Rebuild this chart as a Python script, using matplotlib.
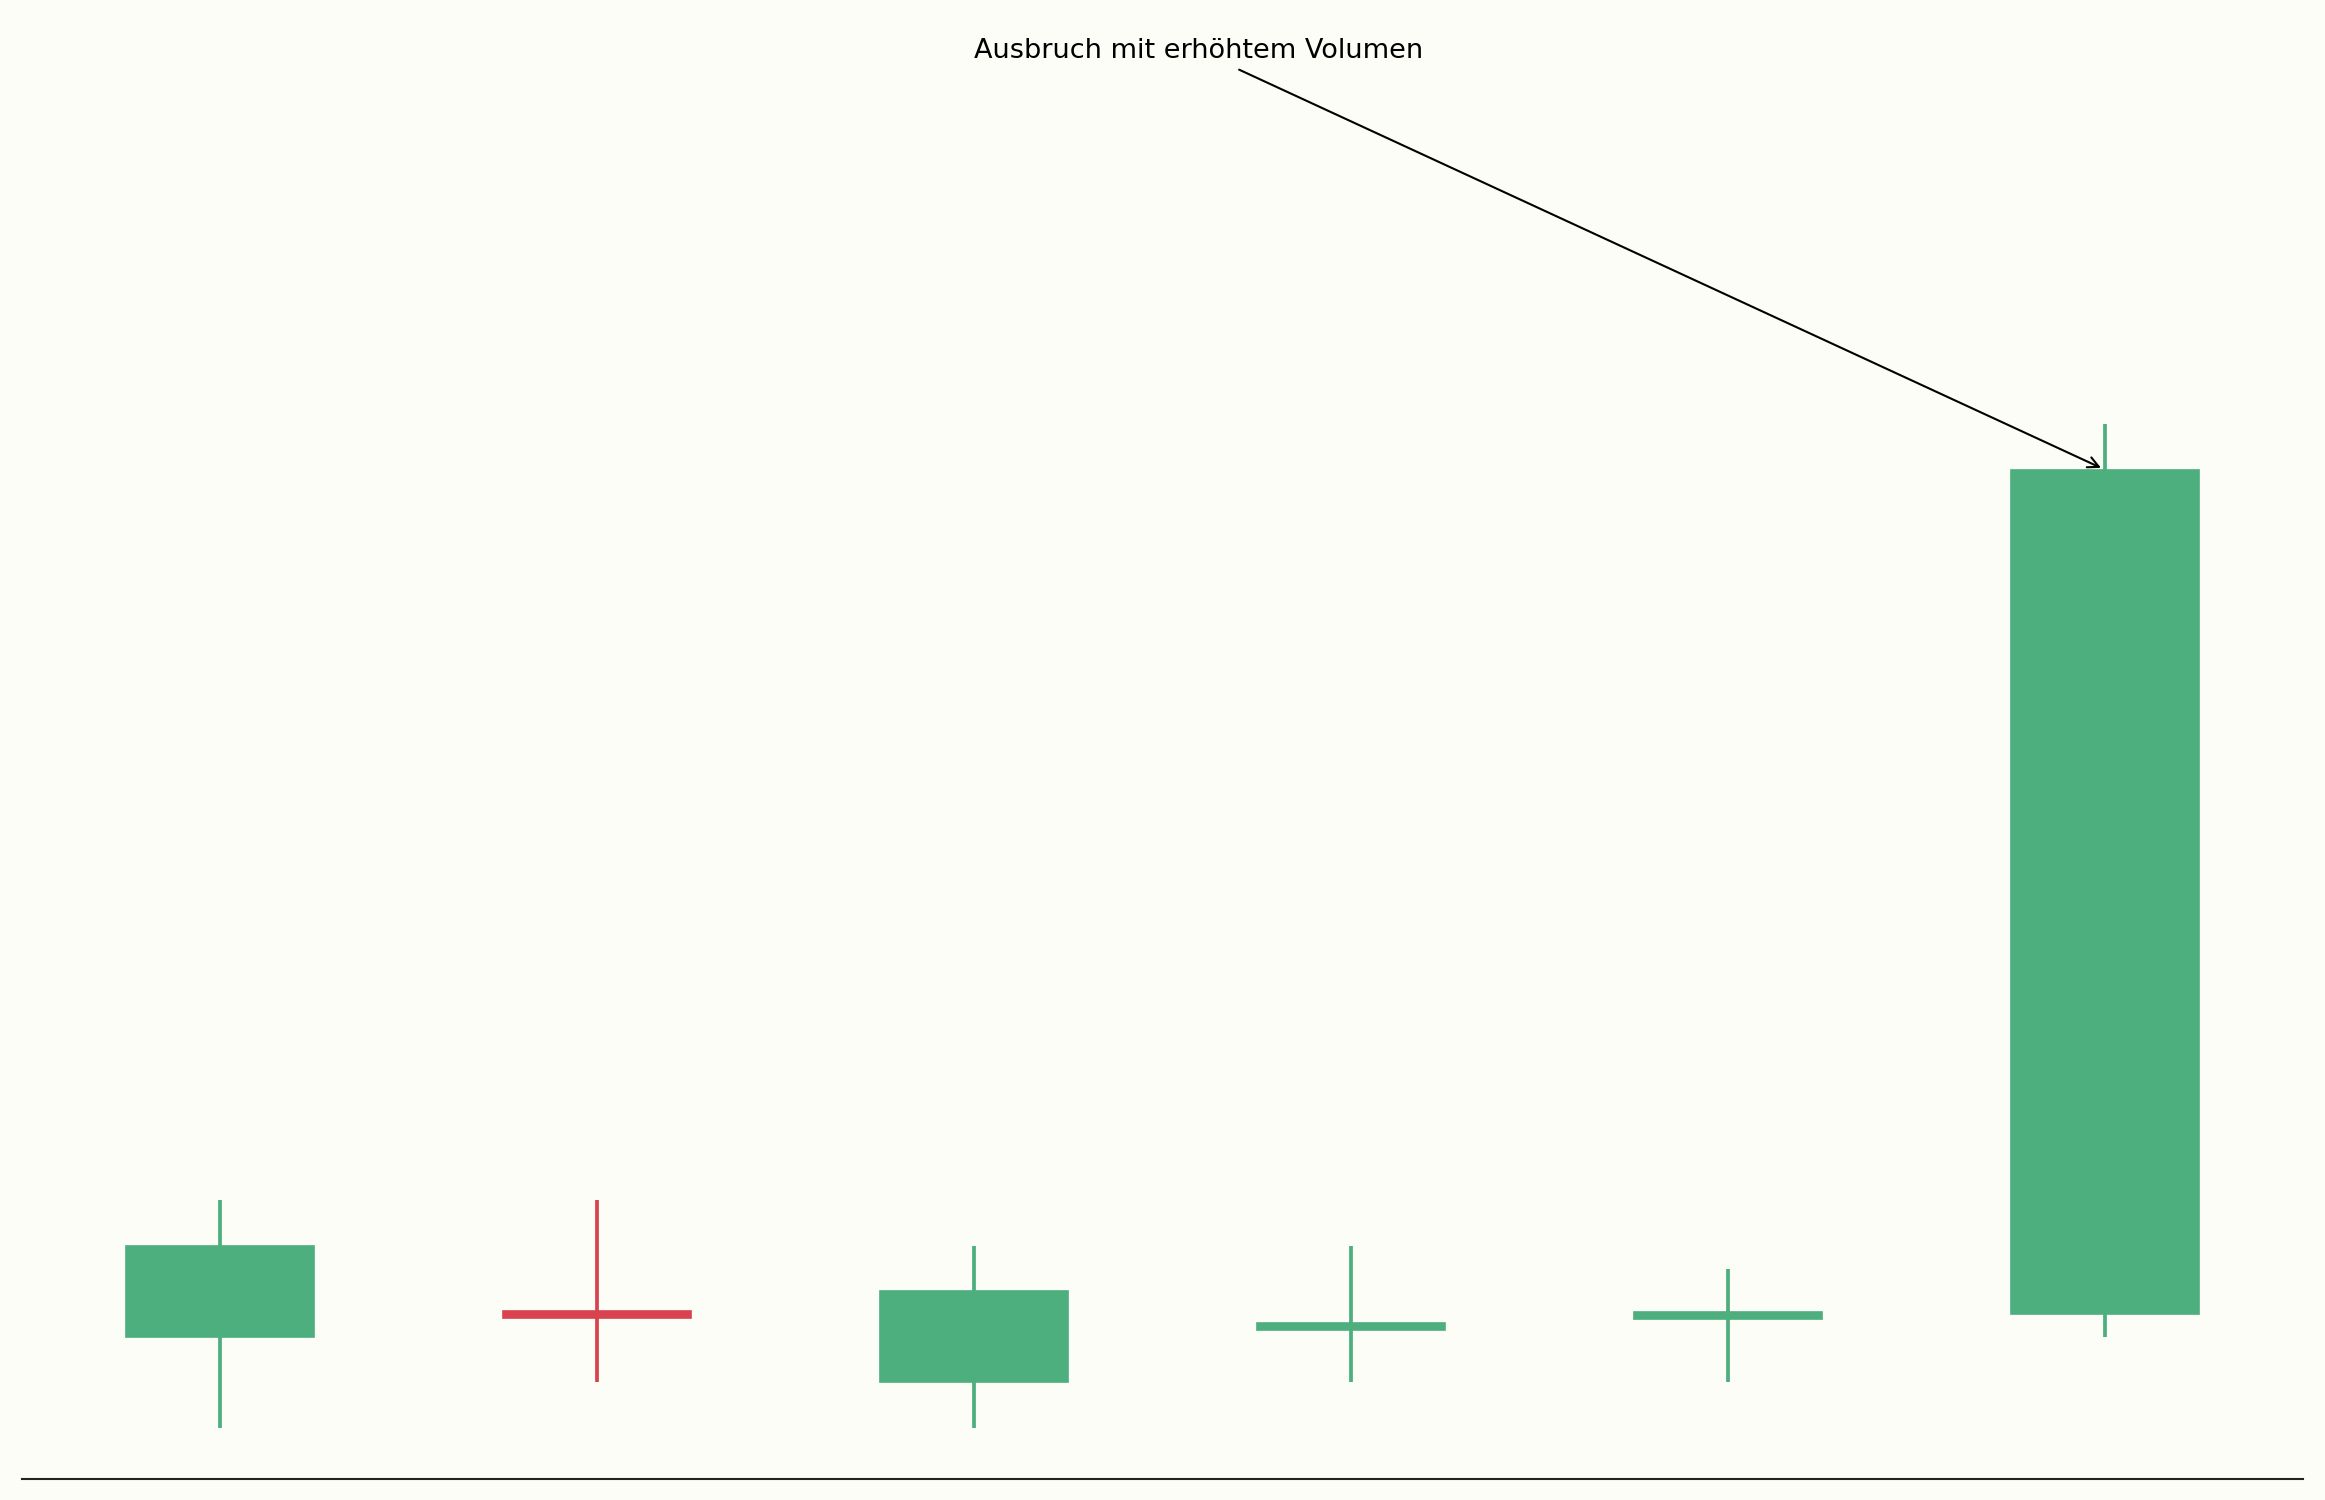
import matplotlib
matplotlib.use("Agg")
import matplotlib.pyplot as plt
import numpy as np

# Data
days = [0, 1, 2, 3, 4, 5]
opens = [103.0, 103.52, 102.0, 103.2, 103.45, 103.5]
closes = [105.0, 103.48, 104.0, 103.25, 103.5, 122.05]
highs = [106.0, 106.0, 105.0, 105.0, 104.5, 123.05]
lows = [101.0, 102.0, 101.0, 102.0, 102.0, 103.0]
annotation_text = "Ausbruch mit erhöhtem Volumen"

UP = "#4caf7d"
DOWN = "#d8434f"
BG = "#fdfdf8"

fig = plt.figure(figsize=(15.5, 10), dpi=150, facecolor=BG)
bot_px, top_px = 1479.0, 374.0
ax = fig.add_axes([22 / 2325, (1500 - bot_px) / 1500, (2302.7 - 22) / 2325, (bot_px - top_px) / 1500])
ax.set_facecolor(BG)

x = np.array(days, dtype=float)
o = np.array(opens)
c = np.array(closes)
h = np.array(highs)
l = np.array(lows)
colors = [UP if cc >= oo else DOWN for oo, cc in zip(o, c)]

min_body = 0.15
mid = (o + c) / 2
body = np.maximum(np.abs(c - o), min_body)
bottom = mid - body / 2

ax.vlines(x, l, h, colors=colors, linewidth=1.8, zorder=1)
ax.bar(x, body, bottom=bottom, width=0.5, color=colors, edgecolor=colors,
       linewidth=0.8, zorder=2)

ax.set_xlim(-0.525, 5.525)
ax.set_ylim(99.88, 124.15)

for s in ["top", "right", "left"]:
    ax.spines[s].set_visible(False)
ax.spines["bottom"].set_color("#222222")
ax.spines["bottom"].set_linewidth(1.0)
ax.set_xticks([])
ax.set_yticks([])

ax.annotate(annotation_text, xy=(x[5], c[5]), xytext=(2.595, 131.25),
            textcoords="data", ha="center", va="center", fontsize=13,
            color="black", annotation_clip=False,
            arrowprops=dict(arrowstyle="->", color="black", lw=1.0))

fig.savefig("out.png", dpi=150, facecolor=BG)
